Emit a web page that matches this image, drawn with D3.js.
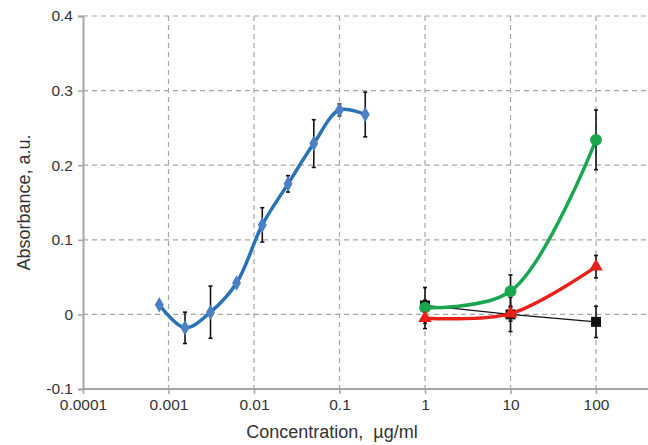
<!DOCTYPE html>
<html lang="en">
<head>
	<title>Absorbance</title>
	<meta charset="utf-8">
	<style>
		body { margin: 0; background: #fff; }
		#graph text { font-family: "Liberation Sans", Arial, sans-serif; fill: #333; white-space: pre; }
		.grid line { stroke: #a6a6a6; stroke-width: 1.2; stroke-dasharray: 5,4; }
	</style>
</head>
<body>
	<svg id="graph" width="648" height="445"></svg>

	<script src="https://d3js.org/d3.v7.min.js"></script>
	<script>
		"use strict";

		// blue series (2x dilutions)
		var blueX = [0.00078, 0.00156, 0.0031, 0.00625, 0.0125, 0.025, 0.05, 0.1, 0.2];
		var blueY = [0.013, -0.018, 0.003, 0.042, 0.120, 0.175, 0.229, 0.274, 0.268];
		var blueErr = [0, 0.021, 0.035, 0.004, 0.023, 0.011, 0.032, 0.008, 0.030];

		// right-hand series
		var rightX = [1, 10, 100];
		var greenY = [0.009, 0.031, 0.234];
		var greenErr = [0.010, 0.022, 0.040];
		var redY = [-0.005, 0.001, 0.064];
		var redErr = [0.014, 0.010, 0.015];
		var blackY = [0.012, 0.000, -0.010];
		var blackErr = [0.024, 0.023, 0.021];

		var xTicks = [0.0001, 0.001, 0.01, 0.1, 1, 10, 100];
		var xTickLabels = ["0.0001", "0.001", "0.01", "0.1", "1", "10", "100"];
		var yTicks = [-0.1, 0, 0.1, 0.2, 0.3, 0.4];
		var yTickLabels = ["-0.1", "0", "0.1", "0.2", "0.3", "0.4"];

		var svg = d3.select("#graph");

		var x = d3.scaleLog().domain([0.0001, 400]).range([83, 647.5]);
		var y = d3.scaleLinear().domain([-0.1, 0.4]).range([389, 16]);

		// grid
		var grid = svg.append("g").attr("class", "grid");
		grid.selectAll("line.h")
			.data(yTicks.filter(function(d){ return d > -0.1; }))
			.enter()
			.append("line")
			.attr("x1", x(0.0001)).attr("x2", 648)
			.attr("y1", function(d){ return y(d); })
			.attr("y2", function(d){ return y(d); });
		grid.selectAll("line.v")
			.data(xTicks.slice(1))
			.enter()
			.append("line")
			.attr("x1", function(d){ return x(d); })
			.attr("x2", function(d){ return x(d); })
			.attr("y1", y(0.4)).attr("y2", y(-0.1));

		// axes
		var xAxis = d3.axisBottom(x).tickValues(xTicks)
			.tickFormat(function(d, i){ return xTickLabels[i]; })
			.tickSize(5).tickPadding(5);
		var yAxis = d3.axisLeft(y).tickValues(yTicks)
			.tickFormat(function(d, i){ return yTickLabels[i]; })
			.tickSize(5).tickPadding(5);

		var gx = svg.append("g").attr("transform", "translate(0," + y(-0.1) + ")").call(xAxis);
		var gy = svg.append("g").attr("transform", "translate(" + x(0.0001) + ",0)").call(yAxis);
		[gx, gy].forEach(function(g){
			g.select(".domain").attr("stroke", "#a6a6a6").attr("stroke-width", 2);
			g.selectAll(".tick line").attr("stroke", "#a6a6a6").attr("stroke-width", 1.5);
			g.selectAll(".tick text").attr("font-size", 15.5).style("fill", "#333");
		});
		gx.select(".domain").attr("d", "M" + x(0.0001) + ",0H648");

		svg.append("text")
			.attr("x", 332).attr("y", 438)
			.attr("text-anchor", "middle")
			.attr("font-size", 18)
			.text("Concentration,  \u00b5g/ml");
		svg.append("text")
			.attr("transform", "translate(30," + y(0.15) + ") rotate(-90)")
			.attr("text-anchor", "middle")
			.attr("font-size", 18)
			.text("Absorbance, a.u.");

		// helpers
		function pts(xs, ys, es){
			return xs.map(function(d, i){ return {x: d, y: ys[i], e: es[i]}; });
		}
		function errBars(data){
			var g = svg.append("g").attr("stroke", "#111").attr("stroke-width", 1.6);
			data.filter(function(d){ return d.e > 0; }).forEach(function(d){
				var cx = x(d.x);
				g.append("line").attr("x1", cx).attr("x2", cx)
					.attr("y1", y(d.y - d.e)).attr("y2", y(d.y + d.e));
				g.append("line").attr("x1", cx - 2).attr("x2", cx + 2)
					.attr("y1", y(d.y - d.e)).attr("y2", y(d.y - d.e));
				g.append("line").attr("x1", cx - 2).attr("x2", cx + 2)
					.attr("y1", y(d.y + d.e)).attr("y2", y(d.y + d.e));
			});
		}
		function drawLine(data, color, width, curve){
			var line = d3.line()
				.x(function(d){ return x(d.x); })
				.y(function(d){ return y(d.y); })
				.curve(curve);
			svg.append("path").datum(data)
				.attr("fill", "none")
				.attr("stroke", color)
				.attr("stroke-width", width)
				.attr("d", line);
		}
		function drawMarks(data, type, size, color){
			svg.append("g").selectAll("path")
				.data(data)
				.enter()
				.append("path")
				.attr("transform", function(d){ return "translate(" + x(d.x) + "," + y(d.y) + ")"; })
				.attr("d", d3.symbol().type(type).size(size))
				.attr("fill", color);
		}

		var blue = pts(blueX, blueY, blueErr);
		var green = pts(rightX, greenY, greenErr);
		var red = pts(rightX, redY, redErr);
		var black = pts(rightX, blackY, blackErr);

		errBars(blue);
		errBars(black);
		errBars(green);
		errBars(red);

		drawLine(blue, "#2a72b8", 3.5, d3.curveCatmullRom);
		drawMarks(blue, d3.symbolDiamond, 70, "#4a80c4");

		drawLine(black, "#111", 1.3, d3.curveLinear);
		drawMarks(black, d3.symbolSquare, 100, "#111");

		drawLine(green, "#1aa64f", 3.5, d3.curveCatmullRom);
		drawMarks(green, d3.symbolCircle, 110, "#1aa64f");

		drawLine(red, "#e8221b", 3.5, d3.curveCatmullRom);
		drawMarks(red, d3.symbolTriangle, 80, "#e8221b");
	</script>
</body>
</html>
